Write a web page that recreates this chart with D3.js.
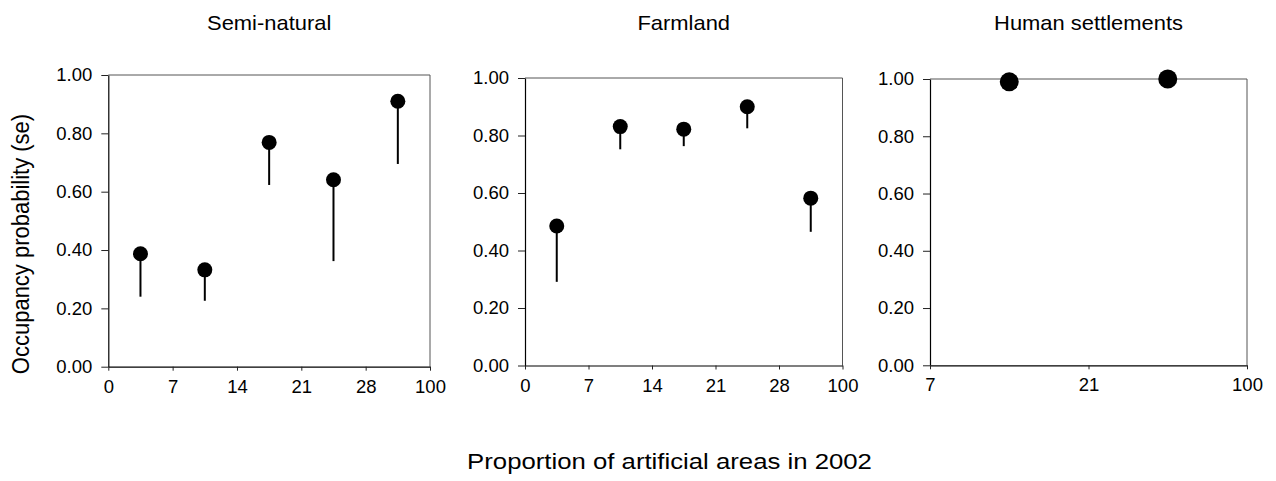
<!DOCTYPE html>
<html>
<head>
<meta charset="utf-8">
<script src="https://cdn.jsdelivr.net/npm/d3@7"></script>
<style>
  body { margin: 0; background: #fff; }
  text { font-family: Arial, "Liberation Sans", sans-serif; fill: #000; }
</style>
</head>
<body>
<svg id="chart" width="1276" height="481"></svg>
<script>
// Panel titles (land-cover type)
const panelTitles = ["Semi-natural", "Farmland", "Human settlements"];

// Class boundaries of the proportion of artificial areas (tick labels)
const binsFine = ["0", "7", "14", "21", "28", "100"];
const binsCoarse = ["7", "21", "100"];

// Occupancy probability per class and its standard error
const semiNaturalOcc = [0.387, 0.332, 0.769, 0.641, 0.910];
const semiNaturalSe  = [0.147, 0.106, 0.146, 0.279, 0.215];
const farmlandOcc    = [0.485, 0.831, 0.822, 0.900, 0.582];
const farmlandSe     = [0.194, 0.079, 0.059, 0.075, 0.117];
const settlementOcc  = [0.990, 1.000];
const settlementSe   = [0.000, 0.000];

const yTicks = [0, 0.2, 0.4, 0.6, 0.8, 1.0];

const panels = [
  { title: panelTitles[0], bins: binsFine,   occ: semiNaturalOcc, se: semiNaturalSe },
  { title: panelTitles[1], bins: binsFine,   occ: farmlandOcc,    se: farmlandSe },
  { title: panelTitles[2], bins: binsCoarse, occ: settlementOcc,  se: settlementSe }
];

// Plot-area frames and marker sizes
const frames = [
  { x0: 108.3, x1: 430,    y0: 75, y1: 366.7, r: 7.5 },
  { x0: 525,   x1: 842.5,  y0: 78, y1: 365.5, r: 7.5 },
  { x0: 930,   x1: 1247,   y0: 79, y1: 365.3, r: 9.5 }
];

const svg = d3.select("#chart");

panels.forEach((p, k) => {
  const f = frames[k];
  const x = d3.scaleLinear().domain([0, p.bins.length - 1]).range([f.x0, f.x1]);
  const y = d3.scaleLinear().domain([0, 1]).range([f.y1, f.y0]);
  const g = svg.append("g");

  // top and right border of the plot box
  g.append("path")
    .attr("d", `M${f.x0},${f.y0}H${f.x1}V${f.y1}`)
    .attr("fill", "none")
    .attr("stroke", "#555")
    .attr("stroke-width", 1);

  const yAxis = g.append("g")
    .attr("transform", `translate(${f.x0},0)`)
    .call(d3.axisLeft(y).tickValues(yTicks).tickFormat(d3.format(".2f"))
      .tickSize(7).tickPadding(9).tickSizeOuter(0));

  const xAxis = g.append("g")
    .attr("transform", `translate(0,${f.y1})`)
    .call(d3.axisBottom(x).tickValues(d3.range(p.bins.length)).tickFormat(i => p.bins[i])
      .tickSize(4).tickPadding(9).tickSizeOuter(0));

  [yAxis, xAxis].forEach(a => {
    a.selectAll("path.domain").attr("stroke", "#000").attr("stroke-width", 1.2);
    a.selectAll(".tick line").attr("stroke", "#222");
    a.selectAll("text").style("font-size", "18.5px").attr("fill", "#000");
  });

  // lower standard-error whiskers
  g.selectAll("line.se")
    .data(p.occ.map((v, i) => ({ i, v, s: p.se[i] })).filter(d => d.s > 0))
    .join("line")
    .attr("class", "se")
    .attr("x1", d => x(d.i + 0.5)).attr("x2", d => x(d.i + 0.5))
    .attr("y1", d => y(d.v)).attr("y2", d => y(d.v - d.s))
    .attr("stroke", "#000").attr("stroke-width", 2);

  // occupancy estimates
  g.selectAll("circle.pt")
    .data(p.occ.map((v, i) => ({ i, v })))
    .join("circle")
    .attr("class", "pt")
    .attr("cx", d => x(d.i + 0.5))
    .attr("cy", d => y(d.v))
    .attr("r", f.r)
    .attr("fill", "#000");

  // panel title
  svg.append("text")
    .attr("transform", `translate(${(f.x0 + f.x1) / 2},30) scale(1.07,1)`)
    .attr("text-anchor", "middle")
    .style("font-size", "20.5px")
    .text(p.title);
});

// shared axis titles
svg.append("text")
  .attr("transform", "translate(29,244) scale(1.12,1) rotate(-90)")
  .attr("text-anchor", "middle")
  .style("font-size", "22px")
  .text("Occupancy probability (se)");

svg.append("text")
  .attr("transform", "translate(669.5,469) scale(1.17,1)")
  .attr("text-anchor", "middle")
  .style("font-size", "22px")
  .text("Proportion of artificial areas in 2002");
</script>
</body>
</html>
